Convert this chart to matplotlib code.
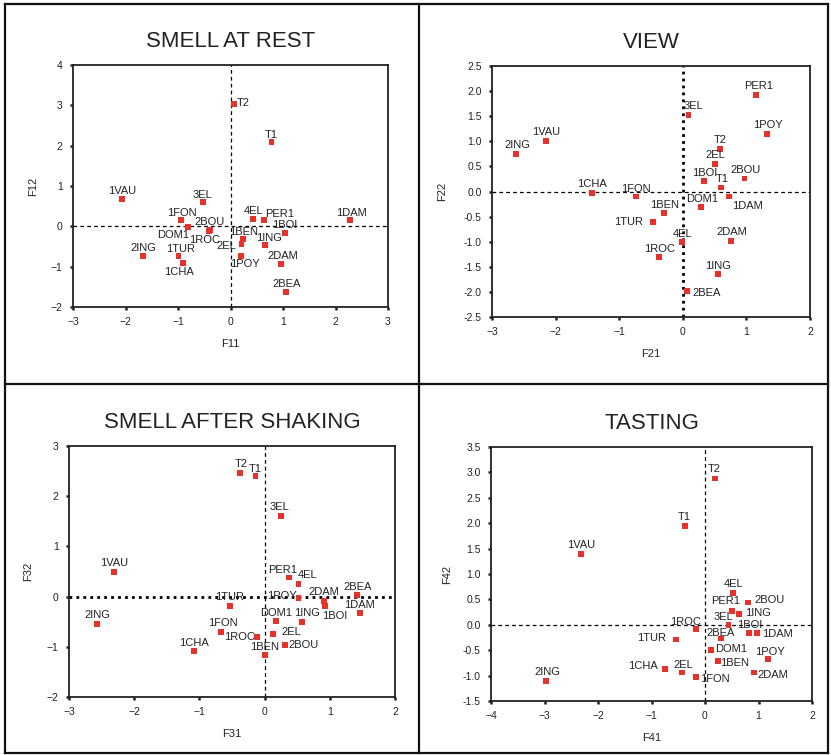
import matplotlib.pyplot as plt
import numpy as np
from matplotlib.lines import Line2D
from matplotlib.ticker import FormatStrFormatter

plt.rcParams['font.family'] = ['Liberation Sans', 'DejaVu Sans']

# ---- data ----
rest_names = ['T2', 'T1', '1VAU', '3EL', '1FON', 'DOM1', '2BOU', '1ROC', '4EL', 'PER1', '1BOI',
              '1DAM', '1BEN', '2EL', '1ING', '1POY', '2DAM', '2BEA', '2ING', '1TUR', '1CHA']
rest_x = [0.06, 0.78, -2.06, -0.53, -0.95, -0.81, -0.39, -0.41, 0.43, 0.63, 1.03,
          2.28, 0.24, 0.21, 0.65, 0.20, 0.96, 1.06, -1.66, -0.99, -0.91]
rest_y = [3.03, 2.09, 0.68, 0.60, 0.15, -0.01, -0.09, -0.11, 0.19, 0.15, -0.17,
          0.15, -0.32, -0.44, -0.46, -0.73, -0.94, -1.62, -0.73, -0.73, -0.91]

view_names = ['PER1', '3EL', '1POY', '1VAU', '2ING', 'T2', '2EL', '1BOI', '2BOU', 'T1', '1CHA',
              '1FON', 'DOM1', '1DAM', '1BEN', '1TUR', '4EL', '2DAM', '1ROC', '1ING', '2BEA']
view_x = [1.15, 0.09, 1.32, -2.15, -2.62, 0.58, 0.51, 0.33, 0.97, 0.60, -1.43,
          -0.73, 0.29, 0.73, -0.30, -0.47, -0.01, 0.76, -0.38, 0.55, 0.07]
view_y = [1.93, 1.53, 1.15, 1.00, 0.74, 0.85, 0.55, 0.21, 0.26, 0.08, -0.03,
          -0.10, -0.31, -0.10, -0.42, -0.60, -1.01, -0.98, -1.30, -1.65, -1.98]

shake_names = ['T2', 'T1', '3EL', '1VAU', 'PER1', '4EL', '2BEA', '1POY', '2DAM', '1BOI', '1DAM',
               '1TUR', '2ING', 'DOM1', '1ING', '1FON', '1ROC', '2EL', '2BOU', '1CHA', '1BEN']
shake_x = [-0.38, -0.14, 0.25, -2.31, 0.38, 0.52, 1.42, 0.52, 0.91, 0.93, 1.46,
           -0.53, -2.57, 0.17, 0.58, -0.67, -0.11, 0.13, 0.31, -1.08, 0.00]
shake_y = [2.46, 2.40, 1.61, 0.49, 0.38, 0.25, 0.03, -0.02, -0.09, -0.19, -0.32,
           -0.18, -0.55, -0.48, -0.50, -0.70, -0.81, -0.74, -0.96, -1.08, -1.16]

taste_names = ['T2', 'T1', '1VAU', '4EL', '2BOU', 'PER1', '1ING', '3EL', '1BOI', '1DAM', '1ROC',
               '1TUR', '2BEA', 'DOM1', '1POY', '1BEN', '1CHA', '2EL', '1FON', '2DAM', '2ING']
taste_x = [0.18, -0.38, -2.31, 0.53, 0.80, 0.50, 0.63, 0.44, 0.82, 0.97, -0.16,
           -0.54, 0.30, 0.12, 1.18, 0.25, -0.74, -0.43, -0.17, 0.92, -2.98]
taste_y = [2.88, 1.94, 1.40, 0.62, 0.44, 0.27, 0.22, -0.01, -0.17, -0.17, -0.09,
           -0.29, -0.27, -0.50, -0.68, -0.71, -0.87, -0.94, -1.02, -0.94, -1.11]

# label offsets (pixels, label centre relative to marker)
rest_off = {'T2': (10, 1), 'T1': (0, 7), '1VAU': (0, 8), '3EL': (0, 7), '1FON': (1, 7),
            'DOM1': (-15, -8), '2BOU': (0, 8), '1ROC': (-4, -9), '4EL': (0, 8), 'PER1': (16, 6),
            '1BOI': (0, 8), '1DAM': (1, 7), '1BEN': (0, 7), '2EL': (-15, -2), '1ING': (4, 7),
            '1POY': (4, -8), '2DAM': (2, 8), '2BEA': (0, 8), '2ING': (0, 8), '1TUR': (2, 7),
            '1CHA': (-4, -9)}
view_off = {'PER1': (3, 9), '3EL': (5, 9), '1POY': (1, 9), '1VAU': (0, 9), '2ING': (1, 9),
            'T2': (1, 9), '2EL': (0, 9), '1BOI': (1, 8), '2BOU': (1, 8), 'T1': (1, 8),
            '1CHA': (0, 9), '1FON': (0, 8), 'DOM1': (1, 8), '1DAM': (18, -9), '1BEN': (1, 8),
            '1TUR': (-24, 0), '4EL': (0, 8), '2DAM': (1, 9), '1ROC': (1, 8), '1ING': (0, 8),
            '2BEA': (19, -2)}
shake_off = {'T2': (1, 9), 'T1': (0, 7), '3EL': (-1, 9), '1VAU': (0, 9), 'PER1': (-7, 8),
             '4EL': (9, 9), '2BEA': (0, 8), '1POY': (-17, 2), '2DAM': (0, 9), '1BOI': (9, -10),
             '1DAM': (0, 8), '1TUR': (0, 9), '2ING': (0, 9), 'DOM1': (0, 8), '1ING': (5, 9),
             '1FON': (2, 9), '1ROC': (-18, 0), '2EL': (18, 2), '2BOU': (19, 0), '1CHA': (0, 8),
             '1BEN': (0, 8)}
taste_off = {'T2': (0, 9), 'T1': (0, 9), '1VAU': (0, 9), '4EL': (0, 9), '2BOU': (22, 2),
             'PER1': (-6, 10), '1ING': (19, 1), '3EL': (-5, 8), '1BOI': (1, 8), '1DAM': (21, -1),
             '1ROC': (-11, 7), '1TUR': (-25, 2), '2BEA': (0, 6), 'DOM1': (20, 1), '1POY': (2, 7),
             '1BEN': (16, -2), '1CHA': (-22, 3), '2EL': (1, 8), '1FON': (19, -2), '2DAM': (19, -2),
             '2ING': (2, 9)}

W, H = 831, 755
fig = plt.figure(figsize=(W / 100, H / 100), dpi=100)

RED = '#e5322b'
INK = '#222222'


def px_axes(left, top, right, bottom):
    return fig.add_axes([left / W, 1 - bottom / H, (right - left) / W, (bottom - top) / H])


panels = [
    dict(box=(73, 65, 388, 307), names=rest_names, x=rest_x, y=rest_y, off=rest_off,
         title='SMELL AT REST', xl='F11', yl='F12', ylgap=40, xlim=(-3, 3), ylim=(-2, 4),
         xt=np.arange(-3, 4, 1), yt=np.arange(-2, 5, 1), yfmt=None, vthick=False, hthick=False),
    dict(box=(492, 66, 810, 317), names=view_names, x=view_x, y=view_y, off=view_off,
         title='VIEW', xl='F21', yl='F22', ylgap=50, xlim=(-3, 2), ylim=(-2.5, 2.5),
         xt=np.arange(-3, 3, 1), yt=np.arange(-2.5, 2.51, 0.5), yfmt='%.1f', vthick=True, hthick=False),
    dict(box=(69, 446, 395, 697), names=shake_names, x=shake_x, y=shake_y, off=shake_off,
         title='SMELL AFTER SHAKING', xl='F31', yl='F32', ylgap=41, xlim=(-3, 2), ylim=(-2, 3),
         xt=np.arange(-3, 3, 1), yt=np.arange(-2, 4, 1), yfmt=None, vthick=False, hthick=True),
    dict(box=(491, 447, 812, 701), names=taste_names, x=taste_x, y=taste_y, off=taste_off,
         title='TASTING', xl='F41', yl='F42', ylgap=44, xlim=(-4, 2), ylim=(-1.5, 3.5),
         xt=np.arange(-4, 3, 1), yt=np.arange(-1.5, 3.51, 0.5), yfmt='%.1f', vthick=False, hthick=False),
]

for p in panels:
    ax = px_axes(*p['box'])
    left, top, right, bottom = p['box']
    ax.set_xlim(*p['xlim'])
    ax.set_ylim(*p['ylim'])
    ax.set_xticks(p['xt'])
    ax.set_yticks(p['yt'])
    if p['yfmt']:
        ax.yaxis.set_major_formatter(FormatStrFormatter(p['yfmt']))
    ax.tick_params(labelsize=7.5, length=2.5, width=1.8, colors=INK, pad=5)
    for s in ax.spines.values():
        s.set_linewidth(1.3)
        s.set_color(INK)

    if p['vthick']:
        ax.axvline(0, color='black', lw=2, ls=(0, (1, 1.5)), zorder=1)
    else:
        ax.axvline(0, color='black', lw=0.9, ls=(0, (3, 2.5)), zorder=1)
    if p['hthick']:
        ax.axhline(0, color='black', lw=2, ls=(0, (1, 1.5)), zorder=1)
    else:
        ax.axhline(0, color='black', lw=0.9, ls=(0, (3, 2.5)), zorder=1)

    ax.scatter(p['x'], p['y'], marker='s', s=18, color=RED, edgecolors='none', zorder=3)
    for n, xv, yv in zip(p['names'], p['x'], p['y']):
        dx, dy = p['off'][n]
        ax.annotate(n, (xv, yv), xytext=(dx, dy), textcoords='offset pixels',
                    ha='center', va='center', fontsize=8, color=INK, zorder=4)

    ax.set_title(p['title'], fontsize=16, color=INK, pad=13)
    ax.set_xlabel(p['xl'], fontsize=8, color=INK)
    ax.set_ylabel(p['yl'], fontsize=8, color=INK)
    # axis titles sit at fixed pixel distances from the frame
    ax.xaxis.set_label_coords(0.5, -37 / (bottom - top))
    ax.yaxis.set_label_coords(-p['ylgap'] / (right - left), 0.5)
    ax.xaxis.label.set_va('center')
    ax.yaxis.label.set_va('center')

# frame lines separating the four panels
for xs, ys in [([5, 828], [4, 4]), ([5, 828], [384, 384]), ([5, 828], [753, 753]),
               ([5, 5], [4, 753]), ([419, 419], [4, 753]), ([828, 828], [4, 753])]:
    fig.add_artist(Line2D([v / W for v in xs], [1 - v / H for v in ys], color='#111111', lw=1.6))

fig.savefig('out.png', dpi=100)
